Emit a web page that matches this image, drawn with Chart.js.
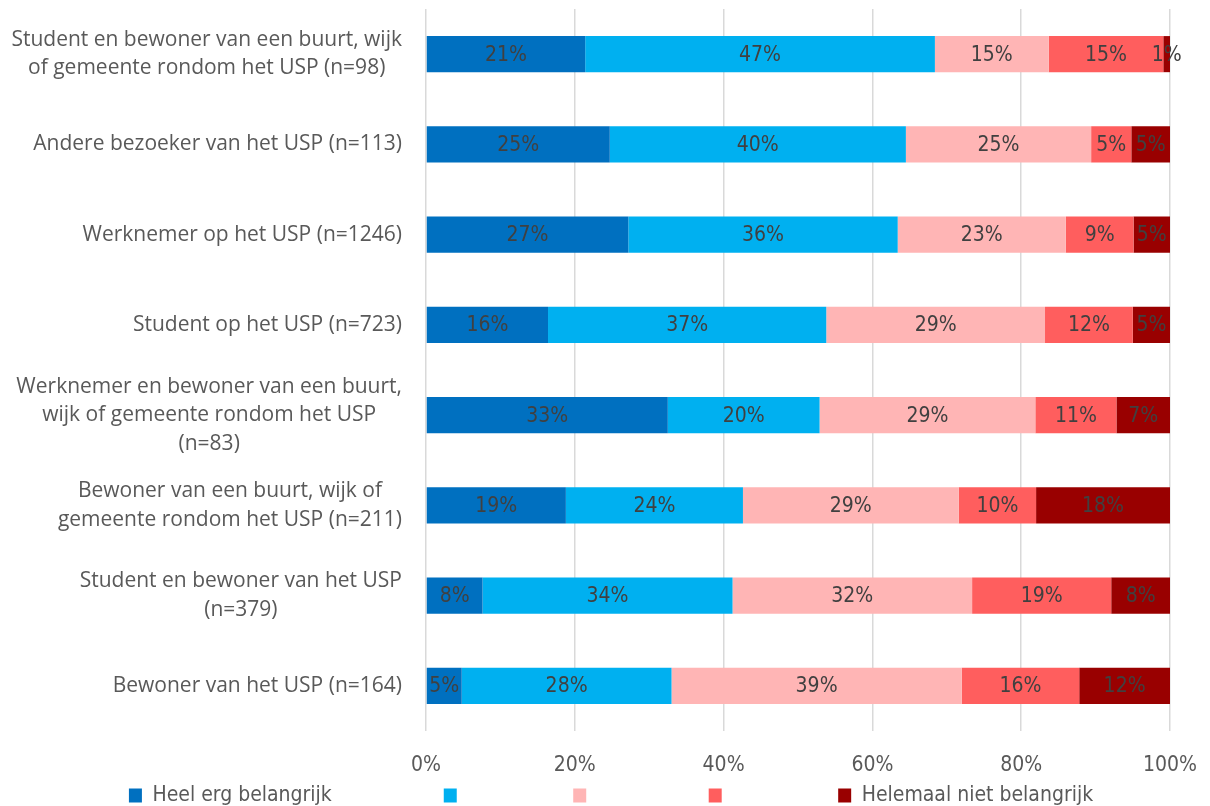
<!DOCTYPE html>
<html><head><meta charset="utf-8">
<script src="https://cdn.jsdelivr.net/npm/chart.js@4"></script>
<style>html,body{margin:0;padding:0;background:#fff}#wrap{width:1210px;height:806px;position:relative}</style>
</head><body><div id="wrap"><canvas id="c" width="1210" height="806"></canvas></div>
<script>
// ---- data ----
const categories = [
  ['Student en bewoner van een buurt, wijk', 'of gemeente rondom het USP (n=98)'],
  ['Andere bezoeker van het USP (n=113)'],
  ['Werknemer op het USP (n=1246)'],
  ['Student op het USP (n=723)'],
  ['Werknemer en bewoner van een buurt,', 'wijk of gemeente rondom het USP', '(n=83)'],
  ['Bewoner van een buurt, wijk of', 'gemeente rondom het USP (n=211)'],
  ['Student en bewoner van het USP', '(n=379)'],
  ['Bewoner van het USP (n=164)']
];
const seriesNames = ['Heel erg belangrijk', '', '', '', 'Helemaal niet belangrijk'];
const heelErg      = [21.4, 24.7, 27.2, 16.4, 32.5, 18.8, 7.6, 4.8];
const serie2       = [47.0, 39.8, 36.2, 37.4, 20.4, 23.8, 33.6, 28.2];
const serie3       = [15.3, 24.9, 22.6, 29.4, 29.0, 29.0, 32.2, 39.0];
const serie4       = [15.4, 5.4, 9.1, 11.8, 10.9, 10.4, 18.7, 15.8];
const helemaalNiet = [0.9, 5.2, 4.9, 5.0, 7.2, 18.0, 7.9, 12.2];
const xTickValues  = [0, 20, 40, 60, 80, 100];

// ---- style ----
const colors = ['#0070C0', '#00B0F0', '#FFB5B5', '#FF5E5E', '#990000'];
const NARROW = "'Liberation Sans Narrow','Arial Narrow','DejaVu Sans Condensed',sans-serif";
const WIDE = "'Open Sans','Noto Sans',sans-serif";
const legendGaps = [314, 130, 133, 129];
const LEFT_PAD = 52, RIGHT_PAD = 40;

const seriesData = [heelErg, serie2, serie3, serie4, helemaalNiet];

const yLabelPlugin = {
  id: 'yLabels',
  afterDraw(chart) {
    const ctx = chart.ctx, ys = chart.scales.y;
    const right = chart.chartArea.left - 24, LH = 28.5;
    ctx.save();
    ctx.font = '21px ' + WIDE;
    ctx.fillStyle = '#595959';
    ctx.textBaseline = 'middle';
    ctx.textAlign = 'center';
    categories.forEach((lines, i) => {
      const cy = ys.getPixelForValue(i);
      const w = Math.max(...lines.map(l => ctx.measureText(l).width));
      const cx = right - w / 2;
      lines.forEach((l, j) => ctx.fillText(l, cx, cy + (j - (lines.length - 1) / 2) * LH));
    });
    ctx.restore();
  }
};

const valueLabelPlugin = {
  id: 'valueLabels',
  afterDatasetsDraw(chart) {
    const ctx = chart.ctx;
    ctx.save();
    ctx.font = '21px ' + NARROW;
    ctx.fillStyle = '#404040';
    ctx.textAlign = 'center';
    ctx.textBaseline = 'middle';
    chart.data.datasets.forEach((ds, di) => {
      const meta = chart.getDatasetMeta(di);
      meta.data.forEach((bar, i) => {
        const p = bar.getProps(['x', 'y', 'base'], true);
        ctx.fillText(Math.round(ds.data[i]) + '%', (p.x + p.base) / 2, p.y + 1);
      });
    });
    ctx.restore();
  }
};

const measureCtx = document.createElement('canvas').getContext('2d');
const legendFontSize = 21, legendBoxW = 13, legendPad = 4;

new Chart(document.getElementById('c'), {
  type: 'bar',
  data: {
    labels: categories.map(l => l.join(' ')),
    datasets: seriesData.map((d, i) => ({
      label: seriesNames[i],
      data: d,
      backgroundColor: colors[i],
      borderWidth: 0,
      barPercentage: 0.4,
      categoryPercentage: 1
    }))
  },
  options: {
    indexAxis: 'y',
    responsive: false,
    animation: false,
    layout: { padding: { top: 9, right: RIGHT_PAD, left: LEFT_PAD, bottom: 0 } },
    scales: {
      x: {
        stacked: true, min: 0, max: 100,
        afterBuildTicks(scale) { scale.ticks = xTickValues.map(v => ({ value: v })); },
        afterFit(scale) { scale.height = 50; scale.paddingLeft = 0; scale.paddingRight = 0; },
        ticks: { callback: v => v + '%', color: '#595959', font: { family: NARROW, size: 21 }, padding: 22 },
        grid: { color: '#D9D9D9', lineWidth: 1.5, drawTicks: false },
        border: { display: false }
      },
      y: {
        stacked: true,
        afterFit(scale) { scale.width = 426 - LEFT_PAD; },
        ticks: { display: false },
        grid: { display: false },
        border: { display: false }
      }
    },
    plugins: {
      tooltip: { enabled: false },
      legend: {
        position: 'bottom',
        maxHeight: 25,
        labels: {
          boxWidth: legendBoxW, boxHeight: 14, padding: legendPad,
          color: '#595959',
          font: { family: NARROW, size: legendFontSize },
          generateLabels(chart) {
            const items = Chart.defaults.plugins.legend.labels.generateLabels(chart);
            measureCtx.font = legendFontSize + 'px ' + NARROW;
            const spaceW = measureCtx.measureText(' ').width || 5;
            items.forEach((it, i) => {
              if (i < legendGaps.length) {
                const target = legendGaps[i] - legendPad - legendBoxW - legendFontSize / 2;
                const nameW = measureCtx.measureText(it.text).width;
                const n = Math.max(0, Math.round((target - nameW) / spaceW));
                it.text = it.text + ' '.repeat(n);
              }
              it.lineWidth = 0;
            });
            return items;
          }
        }
      }
    }
  },
  plugins: [valueLabelPlugin, yLabelPlugin]
});
</script>
</body></html>
